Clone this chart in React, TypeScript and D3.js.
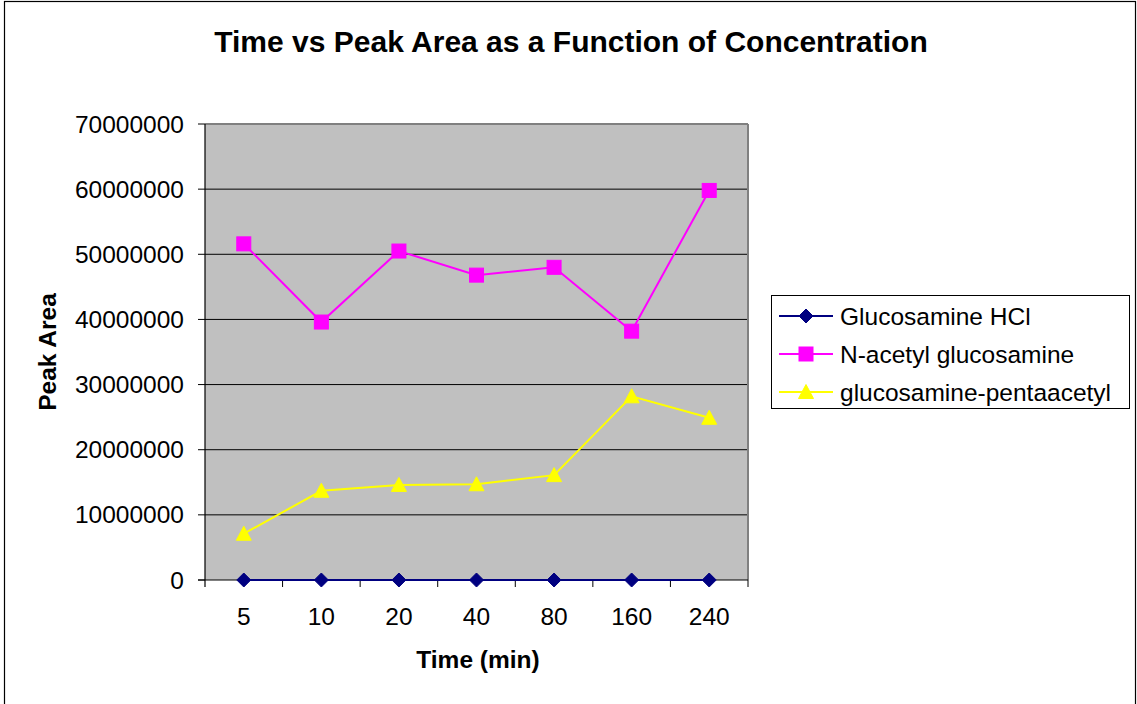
import React from "react";
import * as d3 from "d3";

const categories = ["5", "10", "20", "40", "80", "160", "240"];
const glucosamineHCl = [0, 0, 0, 0, 0, 0, 0];
const nAcetyl = [51600000, 39600000, 50500000, 46800000, 48000000, 38200000, 59800000];
const pentaacetyl = [7100000, 13700000, 14600000, 14700000, 16100000, 28200000, 24900000];
const yTicks = [0, 10000000, 20000000, 30000000, 40000000, 50000000, 60000000, 70000000];
const seriesNames = ["Glucosamine HCl", "N-acetyl glucosamine", "glucosamine-pentaacetyl"];

const FONT = "Liberation Sans, Arial, sans-serif";

export default function App() {
  const W = 1137, H = 704;
  const left = 205, right = 748, top = 124, bottom = 580;
  const x = d3.scaleBand().domain(categories).range([left, right]);
  const y = d3.scaleLinear().domain([0, 70000000]).range([bottom, top]);
  const cx = (c: string) => (x(c) as number) + x.bandwidth() / 2;
  const line = d3.line<[string, number]>().x(d => cx(d[0])).y(d => y(d[1]));

  const series = [
    { name: seriesNames[0], data: glucosamineHCl, color: "#000080", shape: "diamond" },
    { name: seriesNames[1], data: nAcetyl, color: "#FF00FF", shape: "square" },
    { name: seriesNames[2], data: pentaacetyl, color: "#FFFF00", shape: "triangle" },
  ];

  const marker = (shape: string, color: string, px: number, py: number, key: any) => {
    if (shape === "diamond") {
      const s = 7;
      return <path key={key} d={`M${px},${py - s}L${px + s},${py}L${px},${py + s}L${px - s},${py}Z`} fill={color} stroke={color} />;
    }
    if (shape === "square") {
      const s = 7;
      return <rect key={key} x={px - s} y={py - s} width={2 * s} height={2 * s} fill={color} stroke={color} />;
    }
    const s = 7.5;
    return <path key={key} d={`M${px},${py - s}L${px + s},${py + s - 1}L${px - s},${py + s - 1}Z`} fill={color} stroke={color} />;
  };

  const FS = 24.5;

  return (
    <svg width={W} height={H} style={{ position: "absolute", left: 0, top: 0 }} fontFamily={FONT}>
      <rect x={0} y={0} width={W} height={H} fill="#fff" />
      <rect x={4.5} y={1.5} width={1131} height={720} fill="none" stroke="#000" strokeWidth={1.2} />
      <text x={571} y={52} textAnchor="middle" fontSize={30} fontWeight="bold">Time vs Peak Area as a Function of Concentration</text>

      <rect x={left} y={top} width={right - left} height={bottom - top} fill="#C0C0C0" />
      {yTicks.slice(1, -1).map(t => (
        <line key={t} x1={left} x2={right} y1={y(t)} y2={y(t)} stroke="#000" strokeWidth={1} />
      ))}
      <line x1={left} x2={right} y1={top} y2={top} stroke="#808080" strokeWidth={2} />
      <line x1={right} x2={right} y1={top} y2={bottom} stroke="#808080" strokeWidth={2} />
      <line x1={left} x2={left} y1={top} y2={bottom + 7} stroke="#000" strokeWidth={1.2} />
      <line x1={left - 7} x2={right} y1={bottom} y2={bottom} stroke="#000" strokeWidth={1.2} />
      {yTicks.map(t => (
        <g key={t}>
          <line x1={left - 7} x2={left} y1={y(t)} y2={y(t)} stroke="#000" />
          <text x={184} y={y(t) + 8.5} textAnchor="end" fontSize={FS}>{t}</text>
        </g>
      ))}
      {categories.map((c, i) => (
        <g key={c}>
          <line x1={(x(c) as number) + x.bandwidth()} x2={(x(c) as number) + x.bandwidth()} y1={bottom} y2={bottom + 7} stroke="#000" />
          <text x={cx(c)} y={625} textAnchor="middle" fontSize={FS}>{c}</text>
        </g>
      ))}
      <text x={478} y={668} textAnchor="middle" fontSize={FS} fontWeight="bold">Time (min)</text>
      <text transform={`translate(56,352) rotate(-90)`} textAnchor="middle" fontSize={FS} fontWeight="bold">Peak Area</text>

      {series.map((s, si) => (
        <g key={s.name}>
          <path d={line(categories.map((c, i) => [c, s.data[i]] as [string, number])) || ""} fill="none" stroke={s.color} strokeWidth={2} />
          {categories.map((c, i) => marker(s.shape, s.color, cx(c), y(s.data[i]), i))}
        </g>
      ))}

      <rect x={771.5} y={295.5} width={358} height={113} fill="#fff" stroke="#000" strokeWidth={1} />
      {series.map((s, i) => {
        const ly = 316 + i * 38;
        return (
          <g key={s.name}>
            <line x1={779} x2={833} y1={ly} y2={ly} stroke={s.color} strokeWidth={2} />
            {marker(s.shape, s.color, 806, ly, "m")}
            <text x={840} y={ly + 8.5} fontSize={FS}>{s.name}</text>
          </g>
        );
      })}
    </svg>
  );
}
